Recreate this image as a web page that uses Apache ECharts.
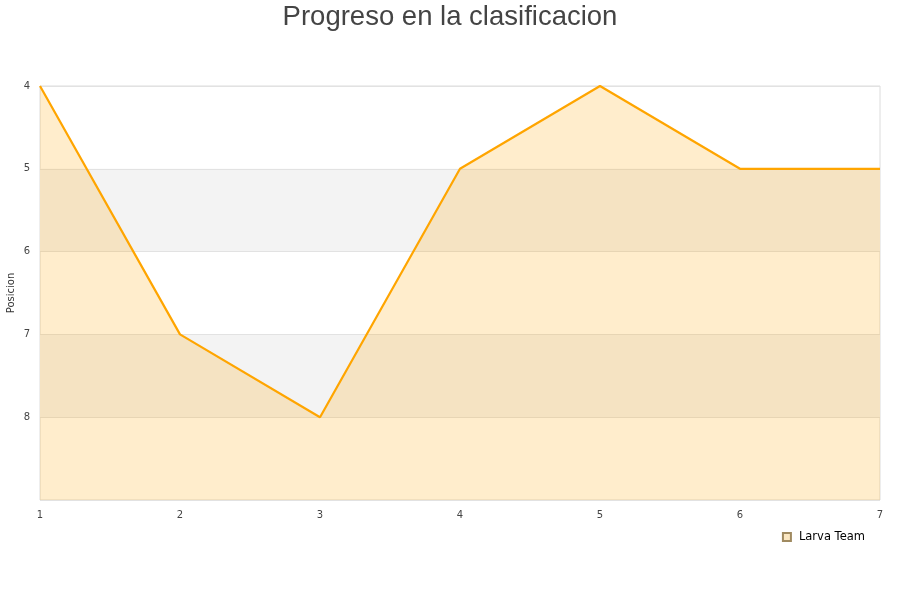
<!DOCTYPE html>
<html><head><meta charset="utf-8">
<script src="https://cdn.jsdelivr.net/npm/echarts@6/dist/echarts.min.js"></script>
<style>html,body{margin:0;padding:0;background:#fff}#c{width:900px;height:600px}</style>
</head><body><div id="c"></div>
<script>
const titleText = "Progreso en la clasificacion";
const jornadas = [1, 2, 3, 4, 5, 6, 7];
const posiciones = [4, 7, 8, 5, 4, 5, 5];
const seriesName = "Larva Team";
const yAxisName = "Posicion";

const chart = echarts.init(document.getElementById('c'));
chart.setOption({
  animation: false,
  backgroundColor: '#fff',
  title: {
    text: titleText, left: 'center', top: -2,
    textStyle: { fontFamily: 'Liberation Sans, Arial, sans-serif', fontSize: 27.5, fontWeight: 'normal', color: '#444' }
  },
  legend: {
    data: [{ name: seriesName, icon: 'rect' }],
    right: 30, top: 526, itemWidth: 8, itemHeight: 8, itemGap: 8,
    textStyle: { fontFamily: 'DejaVu Sans, sans-serif', fontSize: 11.5, color: '#000', padding: [0, 0, 0, 3] }
  },
  grid: { left: 40, right: 20, top: 86, bottom: 100, containLabel: false, outerBoundsMode: 'none', show: true, borderColor: '#dcdcdc', borderWidth: 1, backgroundColor: 'transparent' },
  xAxis: {
    type: 'value', min: 1, max: 7, interval: 1,
    axisLine: { show: false }, axisTick: { show: false }, splitLine: { show: false },
    axisLabel: { margin: 10, fontFamily: 'DejaVu Sans, sans-serif', fontSize: 10, color: '#444' }
  },
  yAxis: {
    type: 'value', inverse: true, min: 4, max: 9, interval: 1,
    name: yAxisName, nameLocation: 'middle', nameGap: 24, nameRotate: 90, nameMoveOverlap: false,
    nameTextStyle: { fontFamily: 'DejaVu Sans, sans-serif', fontSize: 10, color: '#333' },
    axisLine: { show: false }, axisTick: { show: false },
    axisLabel: { margin: 10, fontFamily: 'DejaVu Sans, sans-serif', fontSize: 10, color: '#444',
      formatter: v => (v === 9 ? '' : String(v)) },
    splitLine: { show: true, lineStyle: { color: '#e2e2e2', width: 1 } },
    splitArea: { show: true, areaStyle: { color: ['rgba(255,255,255,0)', '#f3f3f3'] } }
  },
  series: [{
    name: seriesName, type: 'line',
    data: jornadas.map((x, i) => [x, posiciones[i]]),
    showSymbol: false, symbol: 'none',
    itemStyle: { color: '#fbe7c2', borderColor: '#a08a60', borderWidth: 0.8 },
    lineStyle: { color: '#FFA500', width: 2.2 },
    areaStyle: { color: 'rgba(255,165,0,0.2)', opacity: 1, origin: 'end' }
  }]
});
</script></body></html>
